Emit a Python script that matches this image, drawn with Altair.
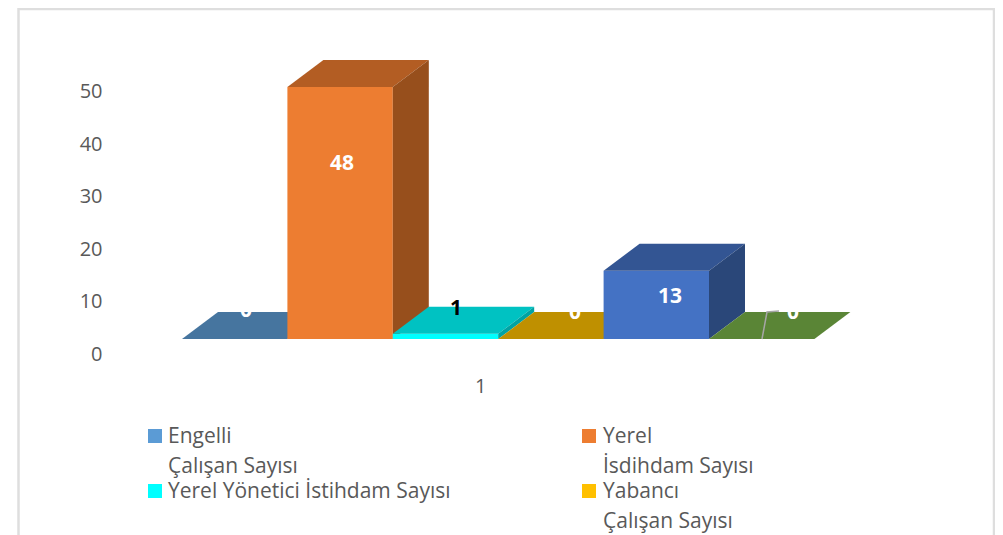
import altair as alt
import pandas as pd

# values
series = ["Engelli Çalışan Sayısı", "Yerel İsdihdam Sayısı", "Yerel Yönetici İstihdam Sayısı",
          "Yabancı Çalışan Sayısı", "Diğer 1", "Diğer 2"]
values = [0, 48, 1, 0, 13, 0]
front_colors = ["#5B9BD5", "#ED7D31", "#00FFFF", "#FFC000", "#4472C4", "#70AD47"]
top_colors = ["#46759F", "#B35D23", "#00C2C2", "#BF9000", "#335593", "#5A8536"]
side_colors = ["#3A6285", "#974F1C", "#00A3A3", "#A17A00", "#2A4779", "#4B6F2D"]
label_colors = ["white", "white", "black", "white", "white", "white"]

# page geometry of the drawing
W, H = 987, 527
PX0, PY0 = 9, 8
BASE_X, BASE_Y = 183.0, 339.0
BAR_W, UNIT_H = 105.4, 5.25
DEPTH_X = 36 / BAR_W
DEPTH_Y = 27 / UNIT_H


def ux(px):
    return (px - BASE_X) / BAR_W


def uy(py):
    return (BASE_Y - py) / UNIT_H


xscale = alt.Scale(domain=[ux(PX0), ux(PX0 + W)], nice=False, zero=False)
yscale = alt.Scale(domain=[uy(PY0 + H), uy(PY0)], nice=False, zero=False)

x_axis = alt.Axis(values=[3], labelExpr="'1'", domain=False, ticks=False, grid=False, labelFontSize=20,
                  labelFont="Open Sans", labelColor="#595959", labelPadding=0, offset=-159,
                  labelOffset=-18, title=None)
y_axis = alt.Axis(values=[0, 10, 20, 30, 40, 50], domain=False, ticks=False, grid=False, labelFontSize=20,
                  labelFont="Open Sans", labelColor="#595959", labelPadding=0, offset=-94,
                  labelOffset=15, title=None)


def X():
    return alt.X("x:Q", scale=xscale, axis=x_axis)


def Y():
    return alt.Y("y:Q", scale=yscale, axis=y_axis, stack=None)


layers = []

# frame
frame_x = [19.5, 19.5, 995, 995]
frame_y = [535, 9, 9, 535]
layers.append(
    alt.Chart(pd.DataFrame({"x": [ux(p) for p in frame_x], "y": [uy(p) for p in frame_y], "o": [0, 1, 2, 3]}))
    .mark_line(color="#DEDEDE", strokeWidth=2.5)
    .encode(x=X(), y=Y(), order="o:Q")
)

# bars: front face, top face, side face for each series
for i, v in enumerate(values):
    x0, x1 = float(i), float(i + 1)
    if v > 0:
        layers.append(
            alt.Chart(pd.DataFrame({"x": [x0], "x2": [x1], "y": [v], "y2": [0]}))
            .mark_rect(color=front_colors[i])
            .encode(x=X(), x2="x2:Q", y=Y(), y2="y2:Q")
        )
    top = pd.DataFrame({
        "x": [x0, x0 + DEPTH_X, x1, x1 + DEPTH_X],
        "y": [v, v, v, v + DEPTH_Y],
        "y2": [v, v + DEPTH_Y, v + DEPTH_Y, v + DEPTH_Y],
    })
    layers.append(alt.Chart(top).mark_area(color=top_colors[i]).encode(x=X(), y=Y(), y2="y2:Q"))
    if v > 0:
        side = pd.DataFrame({
            "x": [x1, x1 + DEPTH_X],
            "y": [0, DEPTH_Y],
            "y2": [v, v + DEPTH_Y],
        })
        layers.append(alt.Chart(side).mark_area(color=side_colors[i]).encode(x=X(), y=Y(), y2="y2:Q"))

# leader line of the last label
leader_x = [763, 768, 780]
leader_y = [339, 312, 311]
layers.append(
    alt.Chart(pd.DataFrame({"x": [ux(p) for p in leader_x], "y": [uy(p) for p in leader_y], "o": [0, 1, 2]}))
    .mark_line(color="#A6A6A6", strokeWidth=1.5)
    .encode(x=X(), y=Y(), order="o:Q")
)

# data labels
label_px = [247, 343, 457, 576, 671, 794]
label_py = [311, 164, 309, 313, 297, 313]
labels = pd.DataFrame({
    "x": [ux(p) for p in label_px],
    "y": [uy(p) for p in label_py],
    "t": [str(v) for v in values],
    "c": label_colors,
})
layers.append(
    alt.Chart(labels)
    .mark_text(font="Open Sans", fontSize=21, fontWeight="bold", align="center", baseline="middle")
    .encode(x=X(), y=Y(), text="t:N", color=alt.Color("c:N", scale=None))
)

# legend
legend_names = ["Engelli\nÇalışan Sayısı", "Yerel\nİsdihdam Sayısı", "Yerel Yönetici İstihdam Sayısı", "Yabancı\nÇalışan Sayısı"]
legend_colors = ["#5B9BD5", "#ED7D31", "#00FFFF", "#FFC000"]
legend_sw_px = [156, 590, 156, 590]
legend_py = [436, 436, 491, 491]
legend_text_px = [169, 604, 169, 604]

sw = pd.DataFrame({"x": [ux(p) for p in legend_sw_px], "y": [uy(p) for p in legend_py], "c": legend_colors})
layers.append(
    alt.Chart(sw).mark_square(size=196, opacity=1).encode(x=X(), y=Y(), color=alt.Color("c:N", scale=None))
)
lt = pd.DataFrame({"x": [ux(p) for p in legend_text_px], "y": [uy(p - 10) for p in legend_py], "t": legend_names})
layers.append(
    alt.Chart(lt)
    .mark_text(font="Open Sans", fontSize=21, color="#595959", align="left", baseline="top", lineBreak="\n", lineHeight=30)
    .encode(x=X(), y=Y(), text="t:N")
)

chart = (
    alt.layer(*layers)
    .properties(width=W, height=H, padding=0, autosize=alt.AutoSizeParams(type="none"), background="white")
    .configure_view(stroke=None)
)

chart.save("out.html", embed_options={"renderer": "svg", "actions": False})
